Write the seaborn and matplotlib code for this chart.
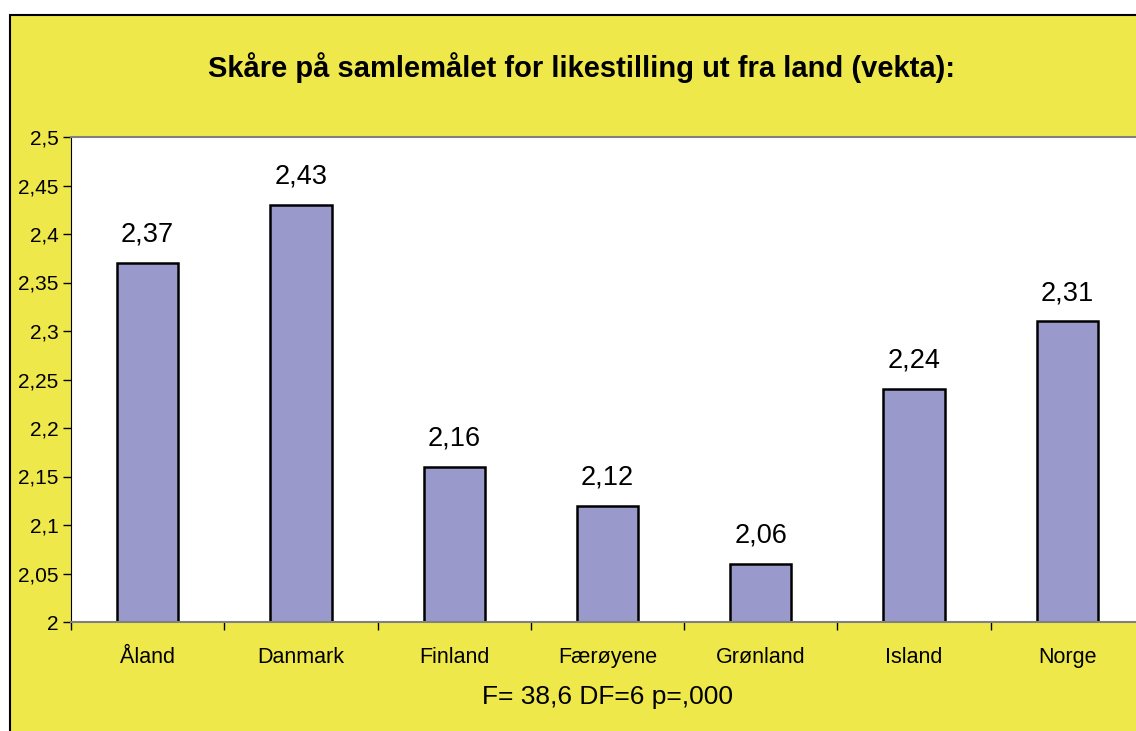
import matplotlib
matplotlib.use("Agg")
import matplotlib.pyplot as plt
import matplotlib.patches as mpatches
from matplotlib.ticker import FuncFormatter, MultipleLocator, FixedLocator
import seaborn as sns
import pandas as pd

land = ["Åland", "Danmark", "Finland", "Færøyene", "Grønland", "Island", "Norge"]
skaare = [2.37, 2.43, 2.16, 2.12, 2.06, 2.24, 2.31]
tittel = "Skåre på samlemålet for likestilling ut fra land (vekta):"
fotnote = "F= 38,6 DF=6 p=,000"

df = pd.DataFrame({"land": land, "skaare": skaare})

sns.set_style("white")
plt.rcParams["font.family"] = ["Liberation Sans", "DejaVu Sans"]
plt.rcParams["text.color"] = "black"
plt.rcParams["xtick.color"] = "black"
plt.rcParams["ytick.color"] = "black"
plt.rcParams["axes.labelcolor"] = "black"

W, H = 1136, 731
fig = plt.figure(figsize=(W / 100, H / 100), dpi=100)
fig.patch.set_facecolor("white")

# yellow chart area with black frame (cropped at right and bottom)
bg = mpatches.Rectangle((10 / W, -0.1), 1.2, (H - 15) / H + 0.1, transform=fig.transFigure,
                        facecolor="#EEE84A", edgecolor="black", linewidth=1.5, zorder=-10)
fig.patches.append(bg)

left, right = 71 / W, 1144 / W
bottom, top = (H - 622) / H, (H - 137) / H
ax = fig.add_axes([left, bottom, right - left, top - bottom])
ax.set_facecolor("white")

sns.barplot(data=df, x="land", y="skaare", ax=ax, color="#9999CC", width=0.4,
            edgecolor="black", linewidth=1.8, saturation=1)

ax.set_ylim(2, 2.5)
ax.set_xlim(-0.5, len(land) - 0.5)
ax.yaxis.set_major_locator(MultipleLocator(0.05))
ax.yaxis.set_major_formatter(FuncFormatter(lambda v, p: ("%g" % round(v, 2)).replace(".", ",")))
ax.tick_params(axis="y", labelsize=15, length=6, width=1, direction="out", left=True, pad=3)

ax.set_xticks(range(len(land)))
ax.set_xticklabels(land)
ax.xaxis.set_minor_locator(FixedLocator([i - 0.5 for i in range(len(land) + 1)]))
ax.tick_params(axis="x", which="major", length=0, labelsize=15.5, pad=18)
ax.tick_params(axis="x", which="minor", length=6, width=1, direction="out", bottom=True)

for s in ["top", "bottom"]:
    ax.spines[s].set_color("#808080")
    ax.spines[s].set_linewidth(1.5)
ax.spines["left"].set_color("black")
ax.spines["right"].set_visible(False)

for i, v in enumerate(skaare):
    ax.annotate(("%.2f" % v).replace(".", ","), (i, v), xytext=(0, 11), textcoords="offset points",
                ha="center", va="bottom", fontsize=19.5)

ax.set_xlabel(fotnote, fontsize=19, labelpad=12)
ax.set_ylabel("")
fig.text(581 / W, (H - 68) / H, tittel, ha="center", va="center", fontsize=21, fontweight="bold")

fig.savefig("out.png", dpi=100)
